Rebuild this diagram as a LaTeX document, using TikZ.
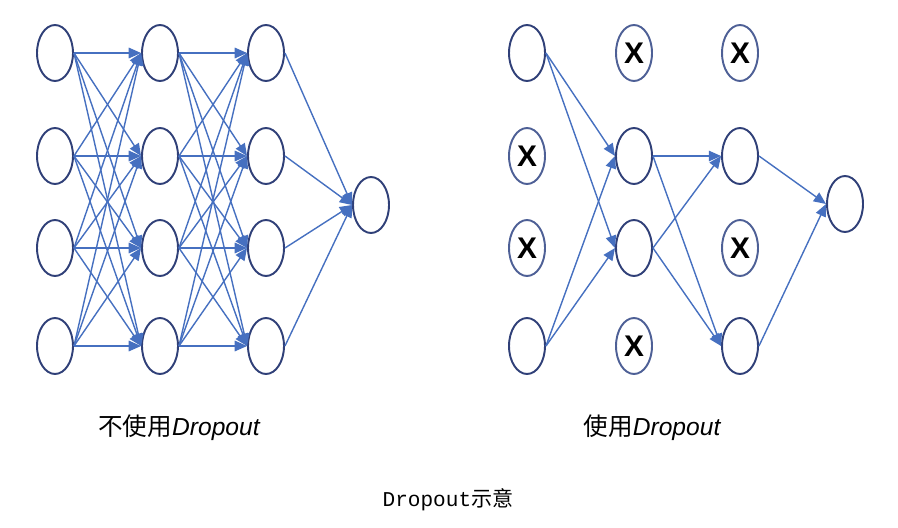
\documentclass[tikz,border=0pt]{standalone}
\usepackage{fontspec}
\usepackage{tikz}
\usetikzlibrary{shapes.geometric, arrows.meta}
\newfontfamily\cjk{Noto Sans CJK SC}
\newfontfamily\hand{Liberation Sans}
\newfontfamily\capmono{Liberation Mono}
\definecolor{NetNavy}{RGB}{48,64,120}
\definecolor{NetRim}{RGB}{78,96,150}
\definecolor{NetBlue}{RGB}{70,112,192}

\begin{document}
\begin{tikzpicture}[x=0.02cm, y=-0.02cm,
          neuron/.style={ellipse, draw=NetNavy, line width=1.1pt, fill=white,
                         minimum width=0.72cm, minimum height=1.12cm, inner sep=0pt},
          dropped/.style={neuron, draw=NetRim, font=\hand\bfseries\fontsize{17}{17}\selectfont},
          arr/.style={-{Triangle[length=7pt, width=6pt]}, NetBlue, line width=0.8pt}
        ]
        \useasboundingbox (0,0) rectangle (898,527);

        % without dropout
        \foreach \i/\y in {1/53, 2/156, 3/248, 4/346} {
          \node[neuron] (a\i) at (55, \y) {};
          \node[neuron] (b\i) at (160, \y) {};
          \node[neuron] (c\i) at (266, \y) {};
        }
        \node[neuron] (ao) at (371, 205) {};

        \foreach \i in {1,...,4} {
          \foreach \j in {1,...,4} {
            \draw[arr] (a\i.east)--(b\j.west);
            \draw[arr] (b\i.east)--(c\j.west);
          }
          \draw[arr] (c\i.east)--(ao.west);
        }

        % with dropout
        \node[neuron] (p1) at (527, 53) {};
        \node[dropped] (p2) at (527, 156) {X};
        \node[dropped] (p3) at (527, 248) {X};
        \node[neuron] (p4) at (527, 346) {};
        \node[dropped] (q1) at (634, 53) {X};
        \node[neuron] (q2) at (634, 156) {};
        \node[neuron] (q3) at (634, 248) {};
        \node[dropped] (q4) at (634, 346) {X};
        \node[dropped] (r1) at (740, 53) {X};
        \node[neuron] (r2) at (740, 156) {};
        \node[dropped] (r3) at (740, 248) {X};
        \node[neuron] (r4) at (740, 346) {};
        \node[neuron] (po) at (845, 204) {};

        \draw[arr] (p1.east)--(q2.west);
        \draw[arr] (p1.east)--(q3.west);
        \draw[arr] (p4.east)--(q2.west);
        \draw[arr] (p4.east)--(q3.west);
        \draw[arr] (q2.east)--(r2.west);
        \draw[arr] (q2.east)--(r4.west);
        \draw[arr] (q3.east)--(r2.west);
        \draw[arr] (q3.east)--(r4.west);
        \draw[arr] (r2.east)--(po.west);
        \draw[arr] (r4.east)--(po.west);

        % labels
        \node[inner sep=0pt, font=\fontsize{14}{16}\selectfont] (nolbl) at (179, 428)
              {{\cjk 不使用}{\hand\itshape Dropout}};
        \node[inner sep=0pt, font=\fontsize{14}{16}\selectfont] (yeslbl) at (652, 428)
              {{\cjk 使用}{\hand\itshape Dropout}};
        \node[inner sep=0pt, font=\fontsize{12}{14}\selectfont] (cap) at (448, 500)
              {{\capmono Dropout}{\cjk 示意}};
      \end{tikzpicture}
\end{document}
